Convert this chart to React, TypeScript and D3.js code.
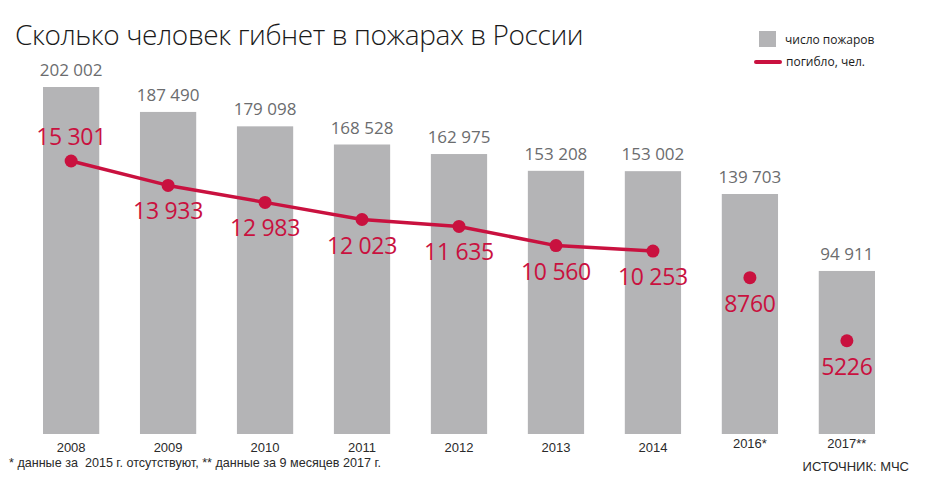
import { useEffect, useRef } from 'react';
import * as d3 from 'd3';

const years = ['2008', '2009', '2010', '2011', '2012', '2013', '2014', '2016*', '2017**'];
const fires = [202002, 187490, 179098, 168528, 162975, 153208, 153002, 139703, 94911];
const deaths = [15301, 13933, 12983, 12023, 11635, 10560, 10253, 8760, 5226];
// years joined by the line (2015 missing, 2017 partial)
const linked = ['2008', '2009', '2010', '2011', '2012', '2013', '2014'];

const WIDTH = 927;
const HEIGHT = 494;
const GREY = '#b4b4b6';
const RED = '#c9113f';
const LABEL_GREY = '#6b6c6e';
const FONT = '"Open Sans", "Noto Sans", sans-serif';
const NARROW = '"Liberation Sans", Arial, sans-serif';

const fmt = (v: number) => {
  const s = String(v);
  if (s.length <= 4) return s;
  return s.replace(/\B(?=(\d{3})+(?!\d))/g, ' ');
};

export default function App() {
  const svgRef = useRef<SVGSVGElement>(null);

  useEffect(() => {
    if (!svgRef.current) return;
    const svg = d3.select(svgRef.current);
    svg.selectAll('*').remove();

    svg.append('rect').attr('width', WIDTH).attr('height', HEIGHT).attr('fill', '#fff');

    const x = d3.scaleBand<string>()
      .domain(years)
      .range([43, 875])
      .paddingInner(0.42)
      .paddingOuter(0);

    const yBar = d3.scaleLinear().domain([0, 202002]).range([434, 87]);
    const yLine = d3.scaleLinear().domain([0, 19450]).range([434, 87]);

    const rows = years.map((year, i) => ({ year, fires: fires[i], deaths: deaths[i] }));

    // Title
    svg.append('text')
      .attr('x', 15)
      .attr('y', 45)
      .attr('fill', '#1a1a1a')
      .attr('font-family', FONT)
      .attr('font-weight', 300)
      .attr('font-size', '28px')
      .attr('letter-spacing', '-0.4px')
      .text('Сколько человек гибнет в пожарах в России');

    // Bars
    svg.append('g').selectAll('rect')
      .data(rows)
      .join('rect')
      .attr('x', d => x(d.year)!)
      .attr('y', d => yBar(d.fires))
      .attr('width', x.bandwidth())
      .attr('height', d => yBar(0) - yBar(d.fires))
      .attr('fill', GREY);

    // Bar labels
    svg.append('g').selectAll('text')
      .data(rows)
      .join('text')
      .attr('x', d => x(d.year)! + x.bandwidth() / 2)
      .attr('y', d => yBar(d.fires) - 11)
      .attr('text-anchor', 'middle')
      .attr('fill', LABEL_GREY)
      .attr('font-family', FONT)
      .attr('font-size', '17px')
      .text(d => fmt(d.fires));

    // Line
    const line = d3.line<typeof rows[number]>()
      .x(d => x(d.year)! + x.bandwidth() / 2)
      .y(d => yLine(d.deaths));

    svg.append('path')
      .datum(rows.filter(d => linked.includes(d.year)))
      .attr('d', line)
      .attr('fill', 'none')
      .attr('stroke', RED)
      .attr('stroke-width', 3.5)
      .attr('stroke-linejoin', 'round');

    svg.append('g').selectAll('circle')
      .data(rows)
      .join('circle')
      .attr('cx', d => x(d.year)! + x.bandwidth() / 2)
      .attr('cy', d => yLine(d.deaths))
      .attr('r', 6.5)
      .attr('fill', RED);

    svg.append('g').selectAll('text')
      .data(rows)
      .join('text')
      .attr('x', d => x(d.year)! + x.bandwidth() / 2)
      .attr('y', (d, i) => yLine(d.deaths) + (i === 0 ? -16 : 34))
      .attr('text-anchor', 'middle')
      .attr('fill', RED)
      .attr('font-family', FONT)
      .attr('font-size', '23px')
      .attr('letter-spacing', '-0.3px')
      .text(d => fmt(d.deaths));

    // Year labels
    svg.append('g').selectAll('text')
      .data(rows)
      .join('text')
      .attr('x', d => x(d.year)! + x.bandwidth() / 2)
      .attr('y', d => (d.year.includes('*') ? 448 : 452))
      .attr('text-anchor', 'middle')
      .attr('fill', '#2a2a2a')
      .attr('font-family', NARROW)
      .attr('font-size', '13px')
      .text(d => d.year);

    // Footnote & source
    svg.append('text')
      .attr('x', 9)
      .attr('y', 467)
      .attr('fill', '#2a2a2a')
      .attr('font-family', NARROW)
      .attr('font-size', '13px')
      .attr('textLength', 372)
      .attr('lengthAdjust', 'spacingAndGlyphs')
      .style('white-space', 'pre')
      .text('* данные за  2015 г. отсутствуют, ** данные за 9 месяцев 2017 г.');

    svg.append('text')
      .attr('x', 909)
      .attr('y', 471)
      .attr('text-anchor', 'end')
      .attr('fill', '#2a2a2a')
      .attr('font-family', NARROW)
      .attr('font-size', '13px')
      .text('ИСТОЧНИК: МЧС');

    // Legend
    const legend = svg.append('g');
    legend.append('rect')
      .attr('x', 759).attr('y', 31).attr('width', 17).attr('height', 16)
      .attr('fill', GREY);
    legend.append('text')
      .attr('x', 785).attr('y', 44)
      .attr('fill', '#1a1a1a')
      .attr('font-family', FONT)
      .attr('font-size', '12px')
      .text('число пожаров');
    legend.append('line')
      .attr('x1', 756).attr('x2', 780).attr('y1', 62).attr('y2', 62)
      .attr('stroke', RED).attr('stroke-width', 4).attr('stroke-linecap', 'round');
    legend.append('text')
      .attr('x', 786).attr('y', 66)
      .attr('fill', '#1a1a1a')
      .attr('font-family', FONT)
      .attr('font-size', '12px')
      .text('погибло, чел.');
  }, []);

  return (
    <svg
      ref={svgRef}
      width={WIDTH}
      height={HEIGHT}
      style={{ position: 'absolute', left: 0, top: 0, display: 'block' }}
    />
  );
}
